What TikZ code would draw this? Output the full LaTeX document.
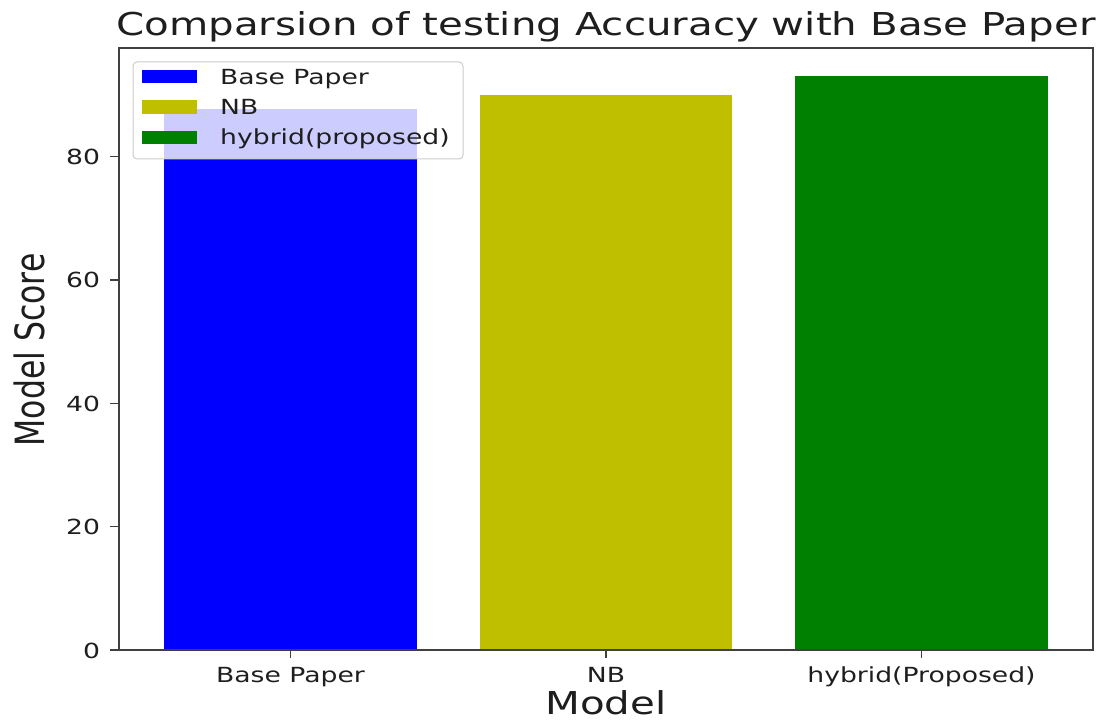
\documentclass[tikz,border=0pt]{standalone}
\usepackage{graphicx}
\usepackage{fontspec}
\setmainfont{DejaVu Sans}
\definecolor{barblue}{RGB}{0,0,255}
\definecolor{baryellow}{RGB}{191,191,0}
\definecolor{bargreen}{RGB}{0,128,0}
\definecolor{ink}{RGB}{30,30,30}
\newcommand\wide[1]{\scalebox{1.28}[1]{#1}}
\newcommand\tall[1]{\scalebox{1}[1.28]{#1}}
\tikzset{
  ticktext/.style={font=\fontsize{20.8}{21}\selectfont, text=ink, inner sep=0pt},
  bigtext/.style={font=\fontsize{31.5}{32}\selectfont, text=ink, inner sep=0pt},
  spine/.style={draw=black!75, line width=1.6pt},
  tickmark/.style={draw=black!75, line width=1.5pt},
  legendbox/.style={draw=black!20, line width=1pt, fill=white, fill opacity=0.8, rounded corners=4pt},
}
\begin{document}
\begin{tikzpicture}[x=1pt,y=1pt]
\useasboundingbox (0,0) rectangle (1102,721);
% data coordinates: category index along x, score along y
\begin{scope}[shift={(290.5,71)}, x=315.5pt, y=6.1667pt]
  \fill[barblue]   (-0.4,0) rectangle (0.4,87.7);
  \fill[baryellow] (0.6,0) rectangle (1.4,90);
  \fill[bargreen]  (1.6,0) rectangle (2.4,93);
  \coordinate (ll) at (-0.543,0);
  \coordinate (ur) at (2.543,97.65);
  % category ticks and labels
  \foreach \i/\lab/\nm in {0/Base Paper/xa, 1/NB/xb, 2/hybrid(Proposed)/xc}{
    \coordinate (t\nm) at (\i,0);
    \draw[tickmark] (t\nm) -- ++(0,-8pt);
    \node[ticktext, anchor=base] (\nm) at ([yshift=-32pt]t\nm) {\wide{\lab}};
  }
  % score ticks and labels
  \foreach \v in {0,20,40,60,80}{
    \coordinate (y\v) at (-0.543,\v);
    \draw[tickmark] (y\v) -- ++(-9pt,0);
    \node[ticktext, anchor=base east] (ly\v) at ([xshift=-19pt,yshift=-8pt]y\v) {\wide{\v}};
  }
\end{scope}
% axes frame
\draw[spine] (ll) rectangle (ur);
% legend
\draw[legendbox] (133,659) rectangle (463,562);
\fill[barblue]   (142,651) rectangle (197,638);
\fill[baryellow] (142,621) rectangle (197,607);
\fill[bargreen]  (142,590) rectangle (197,577);
\node[ticktext, anchor=base west] (lga) at (220,636) {\wide{Base Paper}};
\node[ticktext, anchor=base west] (lgb) at (220,606) {\wide{NB}};
\node[ticktext, anchor=base west] (lgc) at (220,576) {\wide{hybrid(proposed)}};
% title and axis labels
\node[bigtext, anchor=base] (title) at (606,685) {\wide{Comparsion of testing Accuracy with Base Paper}};
\node[bigtext, anchor=base] (xlabel) at (606,7) {\wide{Model}};
\node[bigtext, anchor=base, rotate=90] (ylabel) at (45,371) {\tall{Model Score}};
\end{tikzpicture}
\end{document}
